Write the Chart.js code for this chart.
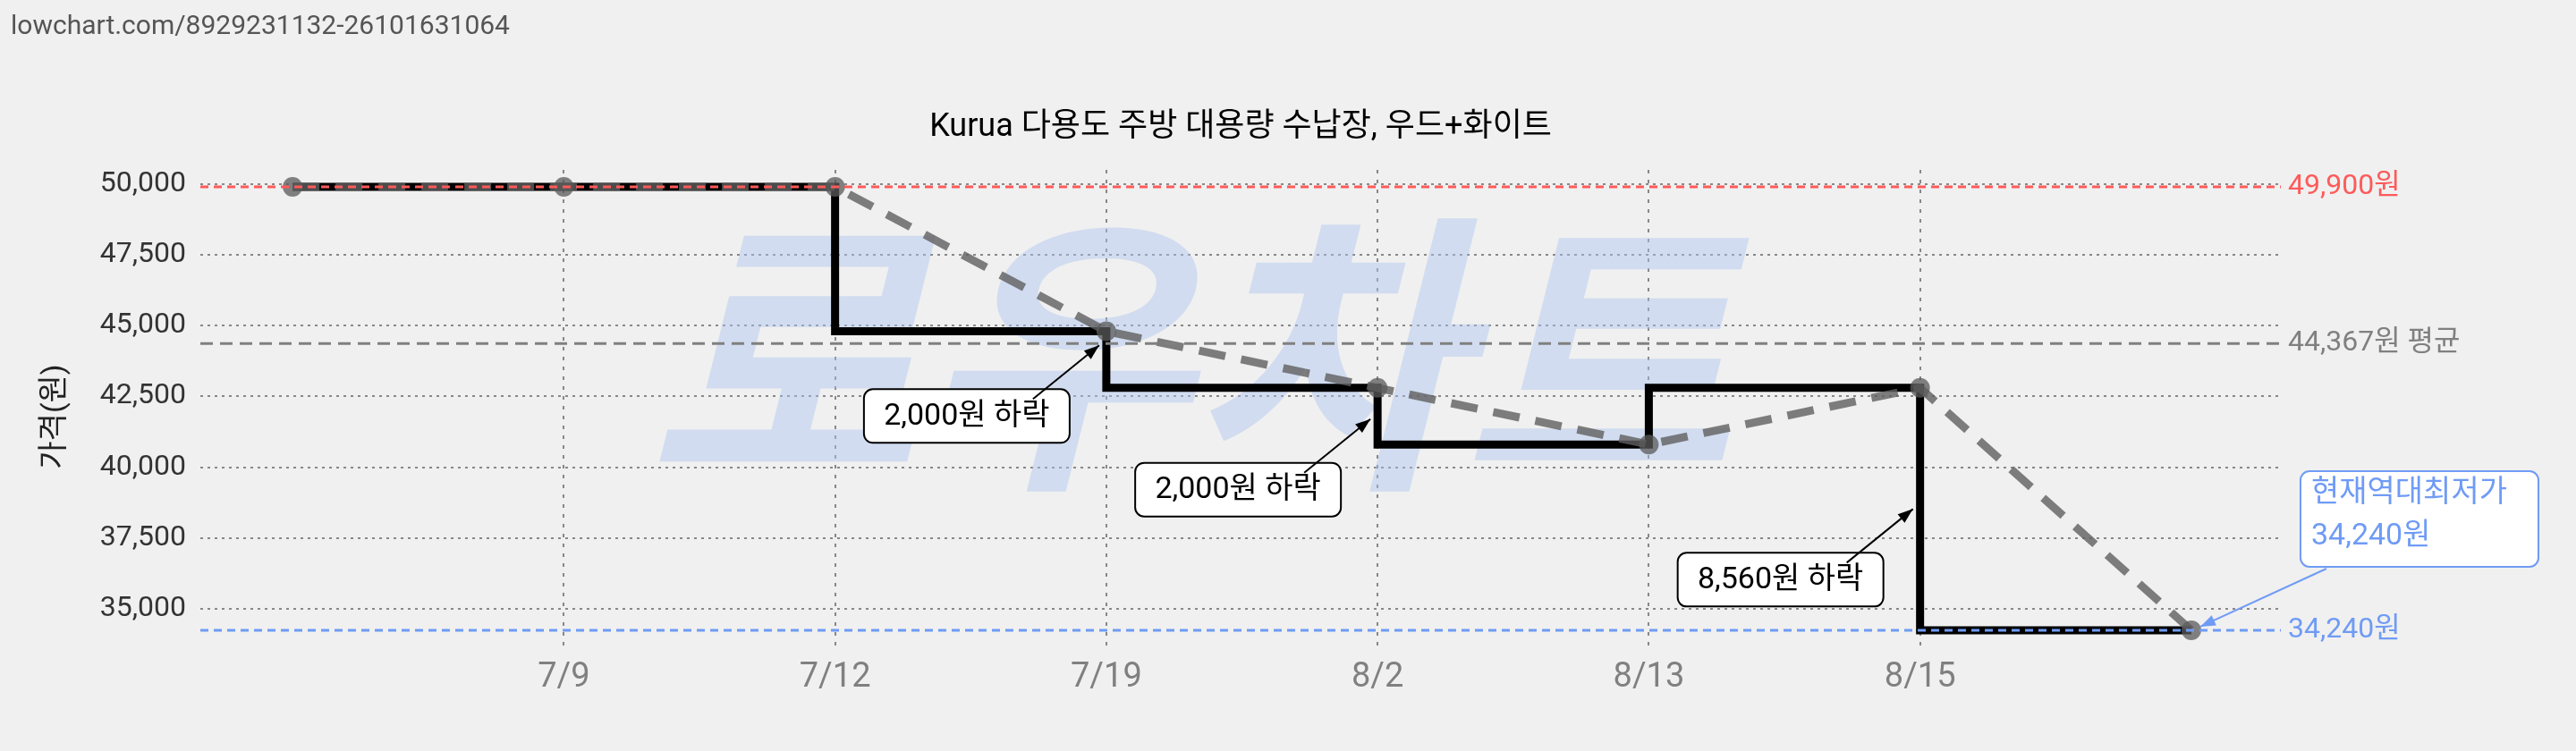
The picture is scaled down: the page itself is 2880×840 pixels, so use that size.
<!DOCTYPE html>
<html><head><meta charset="utf-8">
<script src="https://cdn.jsdelivr.net/npm/chart.js@4"></script>
<style>html,body{margin:0;padding:0;background:#f0f0f0;}#wrap{width:2880px;height:840px;position:relative;}</style>
</head><body><div id="wrap"><canvas id="c" width="2880" height="840"></canvas></div>
<script>
const categories = ['', '7/9', '7/12', '7/19', '8/2', '8/13', '8/15', ''];
const prices = [49900, 49900, 49900, 44800, 42800, 40800, 42800, 34240];
const yTicks = [35000, 37500, 40000, 42500, 45000, 47500, 50000];
const maxPrice = 49900, avgPrice = 44367, minPrice = 34240;
const drops = [{i:3, f:0.25, text:'2,000원 하락'}, {i:4, f:0.55, text:'2,000원 하락'}, {i:6, f:0.5, text:'8,560원 하락'}];
const FONT = 'Roboto, "Noto Sans CJK KR", sans-serif';

const pts = prices.map((v,i)=>({x:i,y:v}));
function fmt(v){return v.toLocaleString('en-US');}

const deco = {
  id:'deco',
  beforeDatasetsDraw(ch){
    const c=ch.ctx;
    c.save();
    c.fillStyle='rgba(170,195,240,0.45)';
    c.font='bold italic 330px "Noto Sans CJK KR"';
    c.textAlign='center';c.textBaseline='middle';
    c.fillText('로우차트',1330,395);
    c.restore();
  },
  afterDatasetsDraw(ch){
    const c=ch.ctx, xs=ch.scales.x, ys=ch.scales.y, a=ch.chartArea;
    c.save();
    const lines=[[maxPrice,'#ff5a5a',[9,6],3,fmt(maxPrice)+'원'],[avgPrice,'#808080',[14,8],3,fmt(avgPrice)+'원 평균'],[minPrice,'#6f9bf5',[9,6],3,fmt(minPrice)+'원']];
    c.font='32px '+FONT;c.textAlign='left';c.textBaseline='middle';
    for(const [v,col,d,w,t] of lines){
      const y=ys.getPixelForValue(v);
      c.strokeStyle=col;c.lineWidth=w;c.setLineDash(d);
      c.beginPath();c.moveTo(a.left,y);c.lineTo(a.right,y);c.stroke();
      c.fillStyle=col;c.fillText(t,a.right+8,y);
    }
    c.setLineDash([]);
    function arrow(x1,y1,x2,y2,col,w){
      c.strokeStyle=col;c.fillStyle=col;c.lineWidth=w;
      c.beginPath();c.moveTo(x1,y1);c.lineTo(x2,y2);c.stroke();
      const an=Math.atan2(y2-y1,x2-x1),L=18;
      c.beginPath();c.moveTo(x2,y2);
      c.lineTo(x2-L*Math.cos(an-0.35),y2-L*Math.sin(an-0.35));
      c.lineTo(x2-L*Math.cos(an+0.35),y2-L*Math.sin(an+0.35));c.closePath();c.fill();
    }
    function box(x,y,w,h,col,r){
      c.beginPath();c.roundRect(x,y,w,h,r);c.fillStyle='#fff';c.fill();
      c.strokeStyle=col;c.lineWidth=2;c.stroke();
    }
    c.font='34px '+FONT;c.textAlign='center';
    drops.forEach(d=>{
      const px=xs.getPixelForValue(d.i)-8;
      const py=ys.getPixelForValue(prices[d.i]-d.f*(prices[d.i]-prices[d.i+1]));
      const tx=px-74, ty=py+60;
      const w=230,h=60;
      box(tx+41-w,ty-11,w,h,'#000',10);
      c.fillStyle='#000';c.fillText(d.text,tx+41-w/2,ty-11+h/2+1);
      arrow(tx,ty,px,py,'#000',2);
    });
    const lx=xs.getPixelForValue(7)+10, ly=ys.getPixelForValue(minPrice);
    box(2572,527,266,107,'#6f9bf5',10);
    c.fillStyle='#6f9bf5';c.textAlign='left';c.font='34px '+FONT;
    c.fillText('현재역대최저가',2584,552);c.fillText(fmt(minPrice)+'원',2584,600);
    arrow(2601,636,lx,ly-4,'#6f9bf5',2);
    c.fillStyle='#000';c.font='36px '+FONT;c.textAlign='center';
    c.fillText('Kurua 다용도 주방 대용량 수납장, 우드+화이트',(a.left+a.right)/2,143);
    c.fillStyle='#555';c.font='30px '+FONT;c.textAlign='left';
    c.fillText('lowchart.com/8929231132-26101631064',12,30);
    c.translate(62,(a.top+a.bottom)/2+10);c.rotate(-Math.PI/2);
    c.fillStyle='#222';c.font='34px '+FONT;c.textAlign='center';
    c.fillText('가격(원)',0,0);
    c.restore();
  }
};

new Chart(document.getElementById('c'),{
  type:'line',
  data:{datasets:[
    {data:pts,borderColor:'#000',borderWidth:9,stepped:'after',pointRadius:0,order:2},
    {data:pts,borderColor:'rgba(95,95,95,0.8)',borderWidth:9,borderDash:[30,18],pointRadius:11,pointBackgroundColor:'rgba(90,90,90,0.75)',pointBorderWidth:0,tension:0,order:1}
  ]},
  options:{
    responsive:false,animation:false,
    layout:{padding:{left:0,right:330,top:190,bottom:0}},
    plugins:{legend:{display:false},tooltip:{enabled:false}},
    scales:{
      x:{type:'linear',min:-0.34,max:7.33,
        afterBuildTicks(s){s.ticks=[1,2,3,4,5,6].map(v=>({value:v}));},
        afterFit(s){s.height=118;},
        ticks:{callback:v=>categories[v],color:'#808080',font:{family:FONT,size:38},padding:14,maxRotation:0},
        grid:{color:'#888',lineWidth:2,tickLength:0,drawTicks:false},border:{display:false,dash:[4,7]}},
      y:{min:33700,max:50500,
        afterBuildTicks(s){s.ticks=yTicks.map(v=>({value:v}));},
        afterFit(s){s.width=224;},
        ticks:{callback:v=>fmt(v),color:'#333',font:{family:FONT,size:32},padding:16},
        grid:{color:'#888',lineWidth:2,drawTicks:false},border:{display:false,dash:[3,5]}}
    }
  },
  plugins:[deco]
});
</script></body></html>
